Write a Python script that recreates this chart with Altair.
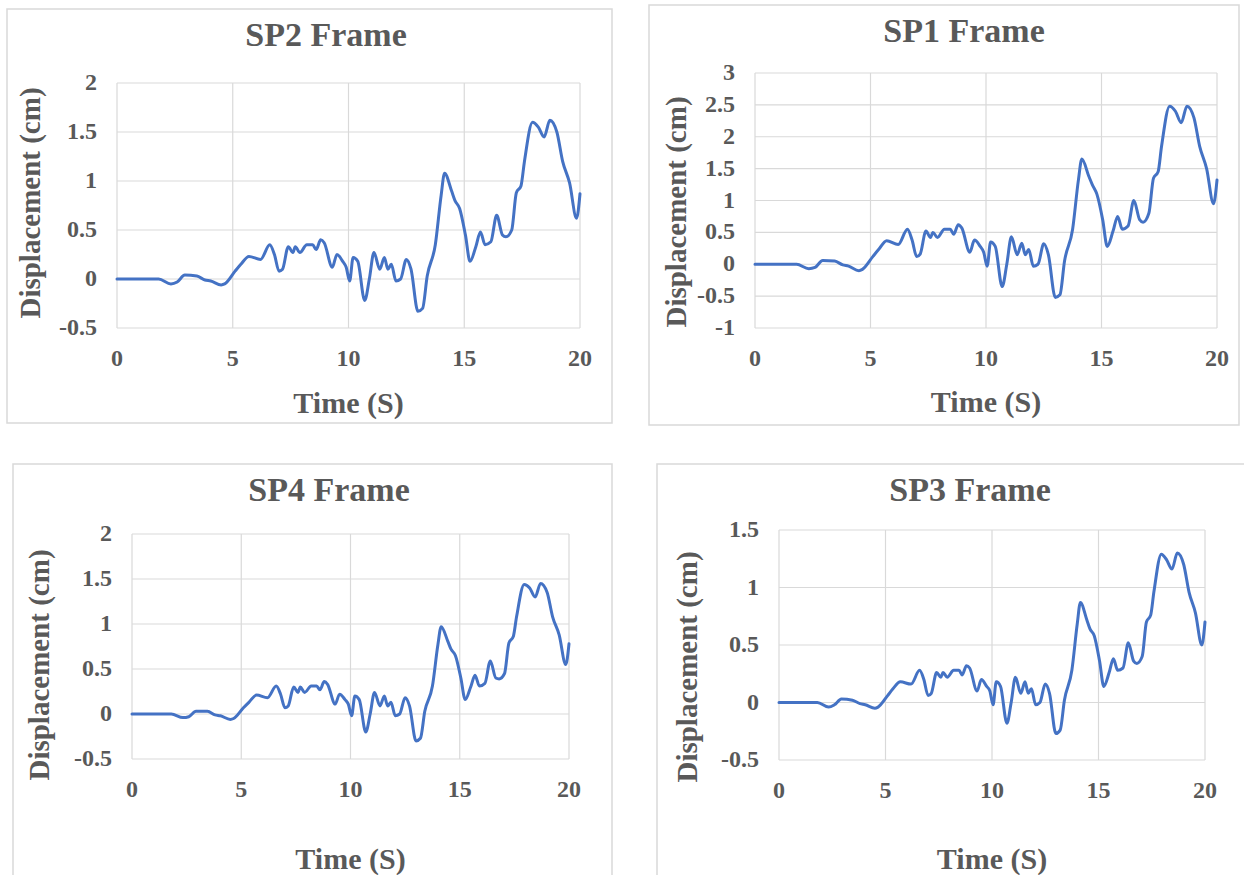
import altair as alt
import pandas as pd

# ---------------- data ----------------
time_s = [0, 1.8, 2.33, 2.6, 2.93, 3.45, 3.8, 4.05, 4.5, 4.65,
          5.1, 5.35, 5.7, 6.2, 6.6, 6.8, 7.0, 7.15, 7.4, 7.6,
          7.7, 7.9, 8.2, 8.45, 8.6, 8.8, 8.95, 9.3, 9.5, 9.75,
          9.9, 10.05, 10.2, 10.4, 10.7, 10.9, 11.1, 11.35, 11.55, 11.7,
          11.85, 12.05, 12.25, 12.5, 12.7, 13.0, 13.2, 13.4, 13.75, 14.0,
          14.15, 14.45, 14.6, 14.8, 15.05, 15.25, 15.5, 15.7, 15.9, 16.15,
          16.4, 16.65, 16.8, 17.05, 17.25, 17.45, 17.6, 17.95, 18.2, 18.45,
          18.7, 19.0, 19.25, 19.55, 19.85, 20.0]

sp2 = [0, 0, -0.05, -0.03, 0.04, 0.03, -0.01, -0.02, -0.06, -0.05,
       0.08, 0.15, 0.23, 0.2, 0.35, 0.25, 0.08, 0.1, 0.33, 0.27,
       0.33, 0.27, 0.35, 0.35, 0.3, 0.4, 0.37, 0.12, 0.25, 0.18,
       0.12, -0.02, 0.22, 0.18, -0.22, 0.0, 0.27, 0.1, 0.22, 0.1,
       0.15, -0.02, 0.0, 0.2, 0.1, -0.33, -0.3, 0.03, 0.35, 0.85,
       1.08, 0.9, 0.8, 0.72, 0.45, 0.18, 0.33, 0.48, 0.35, 0.38,
       0.65, 0.45, 0.43, 0.5, 0.88, 0.95, 1.2, 1.6, 1.55, 1.45,
       1.62, 1.5, 1.2, 0.98, 0.62, 0.87]

sp1 = [0, 0, -0.07, -0.05, 0.06, 0.05, -0.01, -0.03, -0.1, -0.08,
       0.12, 0.23, 0.37, 0.31, 0.55, 0.38, 0.12, 0.16, 0.52, 0.42,
       0.5, 0.42, 0.55, 0.55, 0.47, 0.62, 0.57, 0.19, 0.38, 0.28,
       0.19, -0.03, 0.35, 0.28, -0.35, 0.0, 0.43, 0.15, 0.33, 0.15,
       0.23, -0.03, 0.0, 0.32, 0.15, -0.52, -0.48, 0.05, 0.55, 1.32,
       1.65, 1.38, 1.25, 1.1, 0.7, 0.28, 0.52, 0.75, 0.55, 0.6,
       1.0, 0.7, 0.66, 0.8, 1.35, 1.45, 1.85, 2.48, 2.4, 2.22,
       2.48, 2.3, 1.85, 1.5, 0.95, 1.32]

sp4 = [0, 0, -0.04, -0.03, 0.03, 0.03, -0.01, -0.02, -0.06, -0.05,
       0.07, 0.13, 0.21, 0.18, 0.31, 0.22, 0.07, 0.09, 0.3, 0.24,
       0.3, 0.24, 0.31, 0.31, 0.27, 0.36, 0.33, 0.11, 0.22, 0.16,
       0.11, -0.02, 0.2, 0.16, -0.2, 0.0, 0.24, 0.09, 0.2, 0.09,
       0.13, -0.02, 0.0, 0.18, 0.09, -0.3, -0.27, 0.03, 0.31, 0.77,
       0.97, 0.81, 0.72, 0.65, 0.4, 0.16, 0.3, 0.43, 0.31, 0.34,
       0.59, 0.4, 0.39, 0.45, 0.79, 0.86, 1.08, 1.44, 1.4, 1.3,
       1.45, 1.35, 1.08, 0.88, 0.55, 0.78]

sp3 = [0, 0, -0.04, -0.02, 0.03, 0.02, -0.01, -0.02, -0.05, -0.04,
       0.06, 0.12, 0.18, 0.16, 0.28, 0.2, 0.06, 0.08, 0.26, 0.22,
       0.26, 0.22, 0.28, 0.28, 0.24, 0.32, 0.3, 0.1, 0.2, 0.14,
       0.1, -0.02, 0.18, 0.14, -0.18, 0.0, 0.22, 0.08, 0.18, 0.08,
       0.12, -0.02, 0.0, 0.16, 0.08, -0.27, -0.24, 0.02, 0.28, 0.68,
       0.87, 0.72, 0.64, 0.58, 0.36, 0.14, 0.26, 0.38, 0.28, 0.3,
       0.52, 0.36, 0.34, 0.4, 0.7, 0.76, 0.96, 1.29, 1.24, 1.16,
       1.3, 1.2, 0.96, 0.78, 0.5, 0.7]

titles = ["SP2 Frame", "SP1 Frame", "SP4 Frame", "SP3 Frame"]
x_title = "Time (S)"
y_title = "Displacement (cm)"
x_ticks = [0, 5, 10, 15, 20]
y_ticks_sp2 = [-0.5, 0, 0.5, 1, 1.5, 2]
y_ticks_sp1 = [-1, -0.5, 0, 0.5, 1, 1.5, 2, 2.5, 3]
y_ticks_sp4 = [-0.5, 0, 0.5, 1, 1.5, 2]
y_ticks_sp3 = [-0.5, 0, 0.5, 1, 1.5]

# ---------------- styling / layout ----------------
W, H = 1244, 875
FONT = "Liberation Serif"
TEXT = "#595959"
GRID = "#d9d9d9"
BLUE = "#4472c4"
TICK_FS = 24
AXT_FS = 29
TITLE_FS = 34

# pixel geometry of each panel
geometry = {
    "SP2 Frame": dict(plot=(117, 580, 83, 328), frame=(7, 612, 9, 423),
                      title=(326, 46), ytitle=(40, 203), xbase=413),
    "SP1 Frame": dict(plot=(755, 1217, 73, 328), frame=(649, 1239, 5, 425),
                      title=(964, 42), ytitle=(686, 212), xbase=412),
    "SP4 Frame": dict(plot=(132, 569, 534, 759), frame=(13, 612, 464, 890),
                      title=(329, 501), ytitle=(49, 665), xbase=869),
    "SP3 Frame": dict(plot=(779, 1205, 530, 760), frame=(657, 1260, 464, 890),
                      title=(970, 501), ytitle=(697, 667), xbase=869),
}

dummy = pd.DataFrame({"k": [0]})


def fmt(v):
    return f"{v:g}"


def panel(title, values, yticks):
    g = geometry[title]
    x0, x1, y0, y1 = g["plot"]
    fx0, fx1, fy0, fy1 = g["frame"]
    xs = alt.Scale(domain=[x_ticks[0], x_ticks[-1]], range=[x0, x1], nice=False, zero=False)
    ys = alt.Scale(domain=[yticks[0], yticks[-1]], range=[y1, y0], nice=False, zero=False)

    df = pd.DataFrame({"t": time_s, "d": values})
    ygrid = pd.DataFrame({"v": yticks, "lo": x_ticks[0], "hi": x_ticks[-1],
                          "lab": [fmt(v) for v in yticks]})
    xgrid = pd.DataFrame({"v": x_ticks, "lo": yticks[0], "hi": yticks[-1],
                          "lab": [fmt(v) for v in x_ticks]})

    frame = alt.Chart(dummy).mark_rect(filled=False, stroke=GRID, strokeWidth=1.5).encode(
        x=alt.value(fx0), x2=alt.value(fx1), y=alt.value(fy0), y2=alt.value(fy1))

    gy = alt.Chart(ygrid).mark_rule(color=GRID, strokeWidth=1.2).encode(
        x=alt.X("lo:Q", scale=xs, axis=None), x2="hi:Q",
        y=alt.Y("v:Q", scale=ys, axis=None))
    gx = alt.Chart(xgrid).mark_rule(color=GRID, strokeWidth=1.2).encode(
        x=alt.X("v:Q", scale=xs, axis=None),
        y=alt.Y("lo:Q", scale=ys, axis=None), y2="hi:Q")

    ylab = alt.Chart(ygrid).mark_text(font=FONT, fontSize=TICK_FS, fontWeight="bold",
                                      color=TEXT, align="right", baseline="middle").encode(
        y=alt.Y("v:Q", scale=ys, axis=None), x=alt.value(x0 - 20), text="lab:N")
    xlab = alt.Chart(xgrid).mark_text(font=FONT, fontSize=TICK_FS, fontWeight="bold",
                                      color=TEXT, align="center", baseline="alphabetic").encode(
        x=alt.X("v:Q", scale=xs, axis=None), y=alt.value(y1 + 38), text="lab:N")

    line = alt.Chart(df).mark_line(color=BLUE, strokeWidth=3, interpolate="monotone",
                                   strokeJoin="round", strokeCap="round").encode(
        x=alt.X("t:Q", scale=xs, axis=None),
        y=alt.Y("d:Q", scale=ys, axis=None))

    ttl = alt.Chart(dummy).mark_text(text=title, font=FONT, fontSize=TITLE_FS, fontWeight="bold",
                                     color=TEXT, align="center", baseline="alphabetic").encode(
        x=alt.value(g["title"][0]), y=alt.value(g["title"][1]))
    xt = alt.Chart(dummy).mark_text(text=x_title, font=FONT, fontSize=AXT_FS + 1, fontWeight="bold",
                                    color=TEXT, align="center", baseline="alphabetic").encode(
        x=alt.value((x0 + x1) / 2), y=alt.value(g["xbase"]))
    yt = alt.Chart(dummy).mark_text(text=y_title, font=FONT, fontSize=AXT_FS, fontWeight="bold",
                                    color=TEXT, align="center", baseline="alphabetic",
                                    angle=270).encode(
        x=alt.value(g["ytitle"][0]), y=alt.value(g["ytitle"][1]))

    return alt.layer(frame, gx, gy, line, ylab, xlab, ttl, xt, yt)


chart = alt.layer(
    panel(titles[0], sp2, y_ticks_sp2),
    panel(titles[1], sp1, y_ticks_sp1),
    panel(titles[2], sp4, y_ticks_sp4),
    panel(titles[3], sp3, y_ticks_sp3),
).resolve_scale(x="independent", y="independent").properties(
    width=W, height=H, padding=0, autosize="none", background="white"
).configure_view(stroke=None)

chart.save("out.html", embed_options={"renderer": "svg", "actions": False})
